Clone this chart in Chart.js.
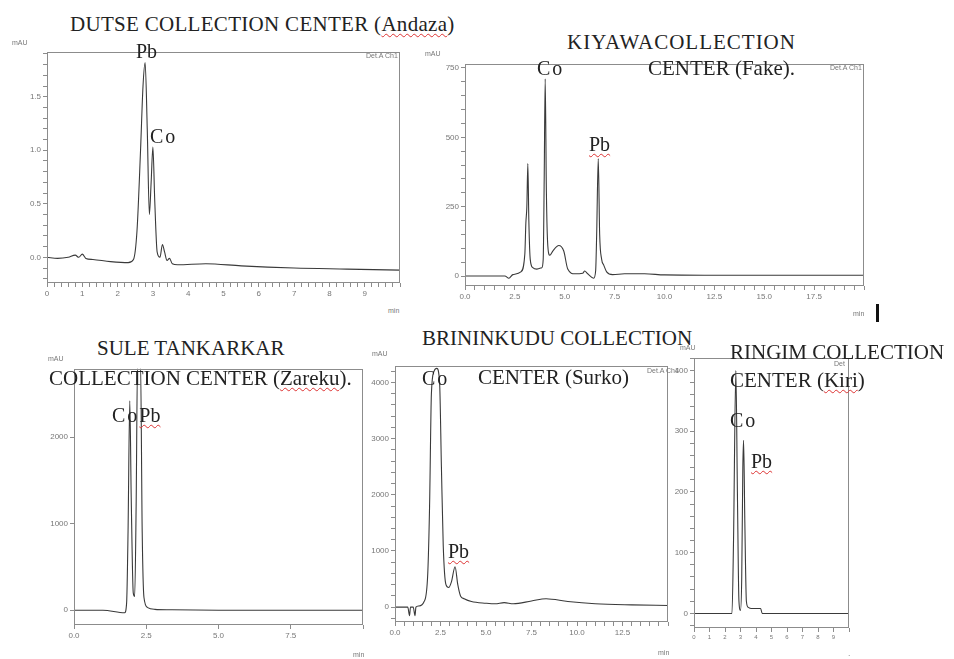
<!DOCTYPE html>
<html>
<head>
<meta charset="utf-8">
<script src="https://cdn.jsdelivr.net/npm/chart.js@4.4.1/dist/chart.umd.min.js"></script>
<style>
body { margin: 0; background: #fff; }
#page { position: relative; width: 954px; height: 659px; overflow: hidden; font-family: "Liberation Serif", "Times New Roman", serif; }
canvas { position: absolute; }
.t { position: absolute; font-size: 21px; line-height: 21px; color: #222; white-space: nowrap; }
.p { position: absolute; font-size: 20px; line-height: 20px; color: #222; white-space: nowrap; }
.co { letter-spacing: 2px; }
.s { position: absolute; font-family: "Liberation Sans", Arial, sans-serif; font-size: 7px; line-height: 7px; color: #777; white-space: nowrap; }
.w { text-decoration: underline wavy #d33; text-decoration-thickness: 1px; text-underline-offset: 2px; }
</style>
</head>
<body>
<div id="page">
  <canvas id="dutse"></canvas>
  <canvas id="kiyawa"></canvas>
  <canvas id="sule"></canvas>
  <canvas id="brininkudu"></canvas>
  <canvas id="ringim"></canvas>

  <div class="t" style="left:70px;top:14px;letter-spacing:0.3px">DUTSE COLLECTION CENTER (<span class="w">Andaza</span>)</div>
  <div class="t" style="left:567px;top:32px;letter-spacing:1px">KIYAWACOLLECTION</div>
  <div class="t" style="left:648px;top:58px">CENTER (Fake).</div>
  <div class="t" style="left:97px;top:338px">SULE TANKARKAR</div>
  <div class="t" style="left:49px;top:368px">COLLECTION CENTER (<span class="w">Zareku</span>).</div>
  <div class="t" style="left:422px;top:328px">BRININKUDU COLLECTION</div>
  <div class="t" style="left:478px;top:367px">CENTER (Surko)</div>
  <div class="t" style="left:730px;top:342px">RINGIM COLLECTION</div>
  <div class="t" style="left:730px;top:370px">CENTER (<span class="w">Kiri</span>)</div>

  <div class="p" style="left:136px;top:41px">Pb</div>
  <div class="p co" style="left:150px;top:126px">Co</div>
  <div class="p co" style="left:537px;top:58px">Co</div>
  <div class="p" style="left:589px;top:134px"><span class="w">Pb</span></div>
  <div class="p" style="left:112px;top:405px"><span class="co">Co</span><span class="w">Pb</span></div>
  <div class="p co" style="left:422px;top:368px">Co</div>
  <div class="p" style="left:448px;top:541px"><span class="w">Pb</span></div>
  <div class="p co" style="left:730px;top:410px">Co</div>
  <div class="p" style="left:751px;top:451px"><span class="w">Pb</span></div>

  <div class="s" style="left:12px;top:39px">mAU</div>
  <div class="s" style="left:425px;top:50px">mAU</div>
  <div class="s" style="left:48px;top:355px">mAU</div>
  <div class="s" style="left:372px;top:350px">mAU</div>
  <div class="s" style="left:680px;top:344px">mAU</div>
  <div class="s" style="left:388px;top:307px">min</div>
  <div class="s" style="left:853px;top:310px">min</div>
  <div class="s" style="left:353px;top:651px">min</div>
  <div class="s" style="left:658px;top:649px">min</div>
  <div class="s" style="left:848px;top:652px">·</div>
  <div class="s" style="left:366px;top:52px">Det.A Ch1</div>
  <div class="s" style="left:830px;top:64px">Det.A Ch1</div>
  <div class="s" style="left:647px;top:367px">Det.A Ch1</div>
  <div class="s" style="left:834px;top:360px">Det</div>
  <div style="position:absolute;left:876px;top:304px;width:3px;height:18px;background:#111"></div>
</div>
<script>
// chromatogram traces (time in min, signal in mAU)
const dutseTime = [0, 0.3, 0.6, 0.8, 0.9, 1.0, 1.1, 1.3, 1.8, 2.3, 2.45, 2.55, 2.65, 2.72, 2.78, 2.84, 2.9, 2.95, 3.0, 3.05, 3.12, 3.2, 3.27, 3.33, 3.4, 3.47, 3.55, 3.7, 4.5, 5.5, 7, 8.5, 10];
const dutseSignal = [0.0, -0.01, 0.0, 0.02, 0.0, 0.03, -0.01, -0.02, -0.04, -0.05, -0.02, 0.25, 1.0, 1.6, 1.82, 1.2, 0.4, 0.7, 1.03, 0.55, 0.05, 0.0, 0.12, 0.05, -0.03, -0.01, -0.06, -0.07, -0.06, -0.08, -0.1, -0.11, -0.12];

const kiyawaTime = [0, 1, 2, 2.2, 2.4, 2.8, 3.0, 3.05, 3.1, 3.15, 3.2, 3.27, 3.4, 3.6, 3.85, 3.92, 3.97, 4.02, 4.08, 4.15, 4.25, 4.4, 4.7, 4.95, 5.15, 5.5, 5.9, 6.0, 6.15, 6.45, 6.55, 6.6, 6.68, 6.75, 6.85, 6.95, 7.1, 7.4, 8, 9, 10, 12, 20];
const kiyawaSignal = [0, 0, 0, -8, 5, 15, 80, 190, 250, 405, 200, 60, 30, 25, 30, 60, 350, 711, 300, 110, 75, 90, 110, 90, 25, 8, 10, 18, 8, -8, 20, 150, 423, 150, 60, 40, 15, 5, 8, 8, 4, 3, 3];

const suleTime = [0, 1, 1.75, 1.82, 1.87, 1.93, 1.98, 2.05, 2.1, 2.15, 2.2, 2.3, 2.36, 2.42, 2.55, 2.8, 3.3, 5, 10];
const suleSignal = [0, 0, -30, 80, 900, 2420, 1300, 200, 160, 1200, 2900, 2900, 900, 150, 30, 10, 5, 0, 0];

const brininkuduTime = [0, 0.7, 0.8, 0.85, 1.0, 1.1, 1.15, 1.3, 1.6, 1.8, 1.9, 2.0, 2.15, 2.3, 2.45, 2.55, 2.65, 2.8, 2.95, 3.1, 3.3, 3.45, 3.6, 3.8, 4.2, 5.0, 5.5, 6.0, 6.5, 7.5, 8.3, 9.5, 11, 13, 15];
const brininkuduSignal = [0, 0, -150, 0, 0, -150, 0, 20, 100, 600, 1800, 3800, 4200, 4250, 4000, 2500, 1100, 400, 350, 450, 720, 400, 200, 150, 100, 70, 60, 80, 60, 110, 150, 100, 60, 40, 30];

const ringimTime = [0, 2.0, 2.45, 2.55, 2.7, 2.8, 2.9, 3.0, 3.08, 3.15, 3.2, 3.28, 3.38, 3.5, 3.7, 4.3, 4.4, 6, 10];
const ringimSignal = [0, 0, 0, 120, 400, 200, 20, 5, 60, 240, 285, 150, 20, 10, 8, 8, 0, 0, 0];

// axis tick values and labels
const dutseXTicks = [0, 1, 2, 3, 4, 5, 6, 7, 8, 9];
const dutseXLabels = ['0', '1', '2', '3', '4', '5', '6', '7', '8', '9'];
const dutseYTicks = [0, 0.5, 1.0, 1.5];
const dutseYLabels = ['0.0', '0.5', '1.0', '1.5'];

const kiyawaXTicks = [0, 2.5, 5, 7.5, 10, 12.5, 15, 17.5];
const kiyawaXLabels = ['0.0', '2.5', '5.0', '7.5', '10.0', '12.5', '15.0', '17.5'];
const kiyawaYTicks = [0, 250, 500, 750];
const kiyawaYLabels = ['0', '250', '500', '750'];

const suleXTicks = [0, 2.5, 5, 7.5];
const suleXLabels = ['0.0', '2.5', '5.0', '7.5'];
const suleYTicks = [0, 1000, 2000];
const suleYLabels = ['0', '1000', '2000'];

const brininkuduXTicks = [0, 2.5, 5, 7.5, 10, 12.5];
const brininkuduXLabels = ['0.0', '2.5', '5.0', '7.5', '10.0', '12.5'];
const brininkuduYTicks = [0, 1000, 2000, 3000, 4000];
const brininkuduYLabels = ['0', '1000', '2000', '3000', '4000'];

const ringimXTicks = [0, 1, 2, 3, 4, 5, 6, 7, 8, 9];
const ringimXLabels = ['0', '1', '2', '3', '4', '5', '6', '7', '8', '9'];
const ringimYTicks = [0, 100, 200, 300, 400];
const ringimYLabels = ['0', '100', '200', '300', '400'];


const frame = {
    id: 'frame',
    afterDraw(chart) {
        const a = chart.chartArea;
        const c = chart.ctx;
        c.save();
        c.strokeStyle = '#8c8c8c';
        c.lineWidth = 1;
        c.strokeRect(Math.round(a.left) + 0.5, Math.round(a.top) + 0.5, Math.round(a.right - a.left) - 1, Math.round(a.bottom - a.top) - 1);
        c.restore();
    },
};

function tickList(min, max, step) {
    const out = [];
    const start = Math.ceil(min / step - 1e-9);
    for (let i = start; i * step <= max + 1e-9; i++) out.push({ value: +(i * step).toFixed(6) });
    return out;
}

function axis(min, max, minor, majors, labels, fontSize, fit) {
    return {
        type: 'linear',
        min: min,
        max: max,
        afterBuildTicks: (scale) => { scale.ticks = tickList(min, max, minor); },
        afterFit: fit,
        border: { display: false },
        grid: { drawOnChartArea: false, tickLength: 4, tickColor: '#8c8c8c' },
        ticks: {
            autoSkip: false,
            maxRotation: 0,
            padding: 2,
            color: '#777',
            font: { family: 'Liberation Sans', size: fontSize },
            callback: (value) => {
                const i = majors.findIndex((m) => Math.abs(m - value) < 1e-6);
                return i >= 0 ? labels[i] : '';
            },
        },
    };
}

function makePanel(id, box, time, signal, x, y) {
    const yW = 44, xH = 24, padTop = 4, padRight = 6;
    const canvas = document.getElementById(id);
    canvas.width = box.right - box.left + yW + padRight;
    canvas.height = box.bottom - box.top + xH + padTop;
    canvas.style.left = (box.left - yW) + 'px';
    canvas.style.top = (box.top - padTop) + 'px';

    return new Chart(canvas.getContext('2d'), {
        type: 'line',
        data: {
            datasets: [{
                data: time.map((t, i) => ({ x: t, y: signal[i] })),
                borderColor: '#3a3a3a',
                borderWidth: 1.1,
                pointRadius: 0,
                cubicInterpolationMode: 'monotone',
                fill: false,
            }],
        },
        options: {
            responsive: false,
            animation: false,
            devicePixelRatio: 1,
            layout: { padding: { top: padTop, right: padRight, left: 0, bottom: 0 } },
            plugins: { legend: { display: false }, tooltip: { enabled: false } },
            scales: {
                x: axis(x.min, x.max, x.minor, x.majors, x.labels, x.font || 8, (s) => { s.height = xH; }),
                y: axis(y.min, y.max, y.minor, y.majors, y.labels, y.font || 8, (s) => { s.width = yW; }),
            },
        },
        plugins: [frame],
    });
}

makePanel('dutse', { left: 47, top: 49, right: 400, bottom: 283 }, dutseTime, dutseSignal,
    { min: 0, max: 10, minor: 0.2, majors: dutseXTicks, labels: dutseXLabels },
    { min: -0.24, max: 1.92, minor: 0.1, majors: dutseYTicks, labels: dutseYLabels });

makePanel('kiyawa', { left: 465, top: 61, right: 864, bottom: 286 }, kiyawaTime, kiyawaSignal,
    { min: 0, max: 20, minor: 0.5, majors: kiyawaXTicks, labels: kiyawaXLabels },
    { min: -36, max: 765, minor: 50, majors: kiyawaYTicks, labels: kiyawaYLabels });

makePanel('sule', { left: 74, top: 366, right: 363, bottom: 625 }, suleTime, suleSignal,
    { min: 0, max: 10, minor: 2.5, majors: suleXTicks, labels: suleXLabels },
    { min: -171, max: 2789, minor: 1000, majors: suleYTicks, labels: suleYLabels });

makePanel('brininkudu', { left: 395, top: 363, right: 668, bottom: 622 }, brininkuduTime, brininkuduSignal,
    { min: 0, max: 15, minor: 0.5, majors: brininkuduXTicks, labels: brininkuduXLabels },
    { min: -264, max: 4296, minor: 200, majors: brininkuduYTicks, labels: brininkuduYLabels });

makePanel('ringim', { left: 694, top: 355, right: 849, bottom: 628 }, ringimTime, ringimSignal,
    { min: 0, max: 10, minor: 1, majors: ringimXTicks, labels: ringimXLabels, font: 6 },
    { min: -24, max: 421, minor: 20, majors: ringimYTicks, labels: ringimYLabels });
</script>
</body>
</html>
